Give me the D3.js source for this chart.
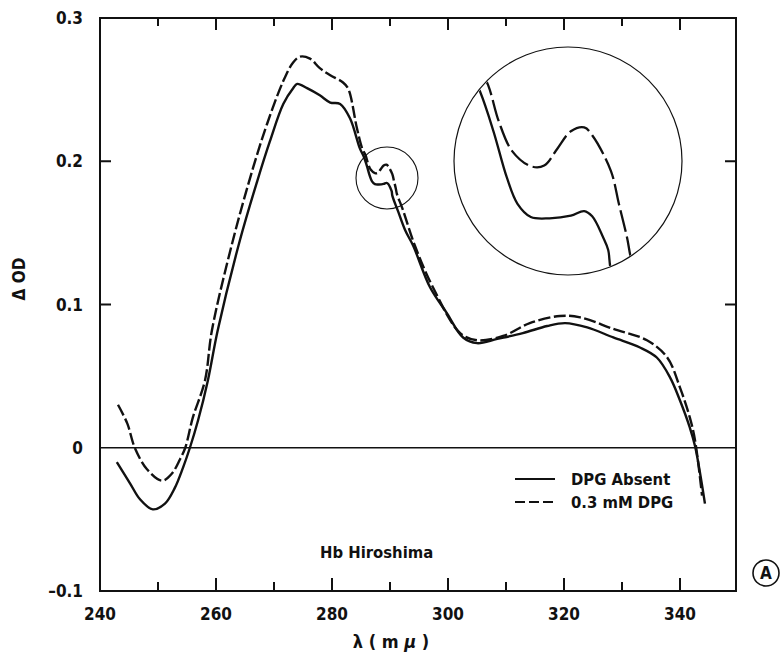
<!DOCTYPE html>
<html>
<head>
<meta charset="utf-8">
<script src="https://cdn.jsdelivr.net/npm/d3@7"></script>
<style>
  html, body { margin: 0; padding: 0; background: #ffffff; }
  svg { display: block; }
  text { font-family: "DejaVu Sans Condensed", "DejaVu Sans", sans-serif; font-stretch: condensed; font-weight: bold; fill: #111; }
</style>
</head>
<body>
<svg id="chart" width="782" height="655"></svg>
<script>
// ---------------- DATA ----------------
const xMajorTicks = [260, 280, 300, 320, 340];
const xMinorTicks = [250, 270, 290, 310, 330];
const xTickLabels = [240, 260, 280, 300, 320, 340];
const yInnerTicks = [0.2, 0.1];
const yTickLabels = [0.3, 0.2, 0.1, 0, -0.1];
const seriesNames = ["DPG Absent", "0.3 mM DPG"];

// DPG Absent (solid)
const wlAbsent = [242.9, 245.2, 246.9, 249.1, 251.2, 252.9, 254.3, 255.5, 256.9, 258.6, 260.3, 264.1, 267.1, 269.3, 271.6, 273.3, 274.0, 275.7, 277.9, 279.7, 281.4, 283.1, 284.8, 285.5, 286.0, 286.5, 286.9, 287.4, 288.1, 288.9, 289.4, 289.7, 290.1, 290.3, 290.4, 291.4, 292.6, 294.0, 296.9, 299.8, 302.6, 305.0, 308.5, 312.9, 317.1, 320.2, 324.0, 328.5, 333.1, 336.0, 338.3, 340.0, 341.7, 342.6, 344.3];
const odAbsent = [-0.010, -0.025, -0.036, -0.043, -0.039, -0.028, -0.014, 0.000, 0.019, 0.047, 0.082, 0.1445, 0.186, 0.214, 0.240, 0.251, 0.254, 0.251, 0.246, 0.241, 0.240, 0.230, 0.209, 0.203, 0.197, 0.190, 0.186, 0.184, 0.1838, 0.1842, 0.1849, 0.1841, 0.181, 0.179, 0.176, 0.165, 0.152, 0.141, 0.112, 0.094, 0.077, 0.073, 0.076, 0.080, 0.085, 0.087, 0.084, 0.077, 0.070, 0.063, 0.049, 0.033, 0.014, 0.001, -0.039];

// 0.3 mM DPG (dashed)
const wlDPG = [243.1, 244.7, 246.0, 248.1, 250.7, 252.4, 253.8, 254.7, 256.0, 258.1, 259.3, 262.9, 266.4, 268.8, 271.6, 273.3, 274.5, 276.2, 277.9, 279.7, 281.9, 282.8, 284.3, 285.2, 285.8, 286.2, 286.7, 287.4, 287.9, 288.4, 288.9, 289.4, 289.7, 290.4, 290.7, 291.0, 291.2, 292.1, 294.3, 297.4, 302.1, 305.0, 309.5, 314.1, 319.3, 322.8, 328.5, 334.3, 337.8, 340.0, 341.7, 342.6, 343.8];
const odDPG = [0.030, 0.017, 0.000, -0.015, -0.023, -0.018, -0.008, 0.000, 0.021, 0.047, 0.082, 0.1445, 0.1955, 0.226, 0.256, 0.269, 0.273, 0.2716, 0.265, 0.260, 0.255, 0.2506, 0.223, 0.209, 0.204, 0.1985, 0.194, 0.1917, 0.1918, 0.1944, 0.197, 0.1976, 0.1964, 0.191, 0.186, 0.181, 0.177, 0.1675, 0.141, 0.112, 0.080, 0.075, 0.078, 0.087, 0.092, 0.091, 0.083, 0.075, 0.063, 0.042, 0.021, 0.005, -0.0335];

// ---------------- LAYOUT ----------------
const svg = d3.select("#chart");
const pLeft = 100, pRight = 736, pTop = 18, pBottom = 591;
const x = d3.scaleLinear().domain([240, 340]).range([pLeft, 680]);
const y = d3.scaleLinear().domain([-0.1, 0.3]).range([pBottom, pTop]);
const ink = "#111";

const absent = wlAbsent.map((w, i) => [w, odAbsent[i]]);
const dpg = wlDPG.map((w, i) => [w, odDPG[i]]);

// frame
svg.append("rect").attr("x", pLeft).attr("y", pTop).attr("width", pRight - pLeft).attr("height", pBottom - pTop)
  .attr("fill", "none").attr("stroke", ink).attr("stroke-width", 2);

// inward tick marks (positions from the scales)
const tickG = svg.append("g").attr("fill", ink);
xMajorTicks.forEach(v => {
  tickG.append("rect").attr("x", x(v) - 1).attr("y", pBottom - 13).attr("width", 2).attr("height", 13);
  tickG.append("rect").attr("x", x(v) - 1).attr("y", pTop).attr("width", 2).attr("height", 12);
});
xMinorTicks.forEach(v => {
  tickG.append("rect").attr("x", x(v) - 1).attr("y", pBottom - 9).attr("width", 2).attr("height", 9);
  tickG.append("rect").attr("x", x(v) - 1).attr("y", pTop).attr("width", 2).attr("height", 8);
});
yInnerTicks.forEach(v => {
  tickG.append("rect").attr("x", pLeft).attr("y", y(v) - 1).attr("width", 11).attr("height", 2);
  tickG.append("rect").attr("x", pRight - 11).attr("y", y(v) - 1).attr("width", 11).attr("height", 2);
});

// zero line
svg.append("line").attr("x1", pLeft).attr("x2", pRight).attr("y1", y(0)).attr("y2", y(0))
  .attr("stroke", ink).attr("stroke-width", 1.3);

// tick labels
svg.append("g").selectAll("text").data(xTickLabels).join("text")
  .attr("x", d => x(d)).attr("y", 620).attr("text-anchor", "middle")
  .attr("font-size", 17).text(d => d);
svg.append("g").selectAll("text").data(yTickLabels).join("text")
  .attr("x", 83).attr("y", d => y(d) + 6).attr("text-anchor", "end")
  .attr("font-size", 17).text(d => d === 0 ? "0" : (d < 0 ? "\u2013" + Math.abs(d) : d.toString()));

// axis titles
const xt = svg.append("text").attr("x", 391).attr("y", 648).attr("text-anchor", "middle").attr("font-size", 18);
xt.append("tspan").text("\u03bb ( m ");
xt.append("tspan").attr("font-style", "italic").text("\u03bc");
xt.append("tspan").text(" )");
svg.append("text").attr("transform", "translate(25,279) rotate(-90)").attr("text-anchor", "middle")
  .attr("font-size", 17).text("\u0394 OD");

// curves
const lineGen = d3.line().x(d => x(d[0])).y(d => y(d[1])).curve(d3.curveCatmullRom.alpha(0.5));
svg.append("path").datum(absent).attr("d", lineGen).attr("fill", "none").attr("stroke", ink).attr("stroke-width", 2.4);
svg.append("path").datum(dpg).attr("d", lineGen).attr("fill", "none").attr("stroke", ink).attr("stroke-width", 2.4)
  .attr("stroke-dasharray", "12,3.5");

// small circle marking magnified region
svg.append("circle").attr("cx", 387).attr("cy", 178).attr("r", 31)
  .attr("fill", "none").attr("stroke", ink).attr("stroke-width", 1.1);

// magnified inset
const M = 4.6, srcX = 383, srcY = 172, dstX = 568, dstY = 161, R = 114;
const xIn = d3.scaleLinear().domain(x.domain()).range(x.range().map(v => dstX + M * (v - srcX)));
const yIn = d3.scaleLinear().domain(y.domain()).range(y.range().map(v => dstY + M * (v - srcY)));
svg.append("clipPath").attr("id", "insetClip").append("circle").attr("cx", dstX).attr("cy", dstY).attr("r", R - 1);
const inset = svg.append("g").attr("clip-path", "url(#insetClip)");
const lineIn = d3.line().x(d => xIn(d[0])).y(d => yIn(d[1])).curve(d3.curveCatmullRom.alpha(0.5));
inset.append("rect").attr("x", dstX - R).attr("y", dstY - R).attr("width", 2 * R).attr("height", 2 * R).attr("fill", "#fff");
inset.append("path").datum(absent).attr("d", lineIn).attr("fill", "none").attr("stroke", ink).attr("stroke-width", 2.3);
inset.append("path").datum(dpg).attr("d", lineIn).attr("fill", "none").attr("stroke", ink).attr("stroke-width", 2.3)
  .attr("stroke-dasharray", "22,5");
svg.append("circle").attr("cx", dstX).attr("cy", dstY).attr("r", R)
  .attr("fill", "none").attr("stroke", ink).attr("stroke-width", 1.2);

// sample label
svg.append("text").attr("x", 320).attr("y", 558).attr("font-size", 16.5).text("Hb Hiroshima");

// legend
const legend = svg.append("g");
seriesNames.forEach((name, i) => {
  const ly = 479 + i * 23;
  legend.append("line").attr("x1", 515).attr("x2", 555).attr("y1", ly).attr("y2", ly)
    .attr("stroke", ink).attr("stroke-width", 1.8)
    .attr("stroke-dasharray", i === 1 ? "10,4" : null);
  legend.append("text").attr("x", 571).attr("y", ly + 6).attr("font-size", 16.5).text(name);
});

// panel marker (A)
svg.append("circle").attr("cx", 766).attr("cy", 573).attr("r", 13)
  .attr("fill", "none").attr("stroke", ink).attr("stroke-width", 1.6);
svg.append("text").attr("x", 766).attr("y", 579).attr("text-anchor", "middle").attr("font-size", 17).text("A");
</script>
</body>
</html>
